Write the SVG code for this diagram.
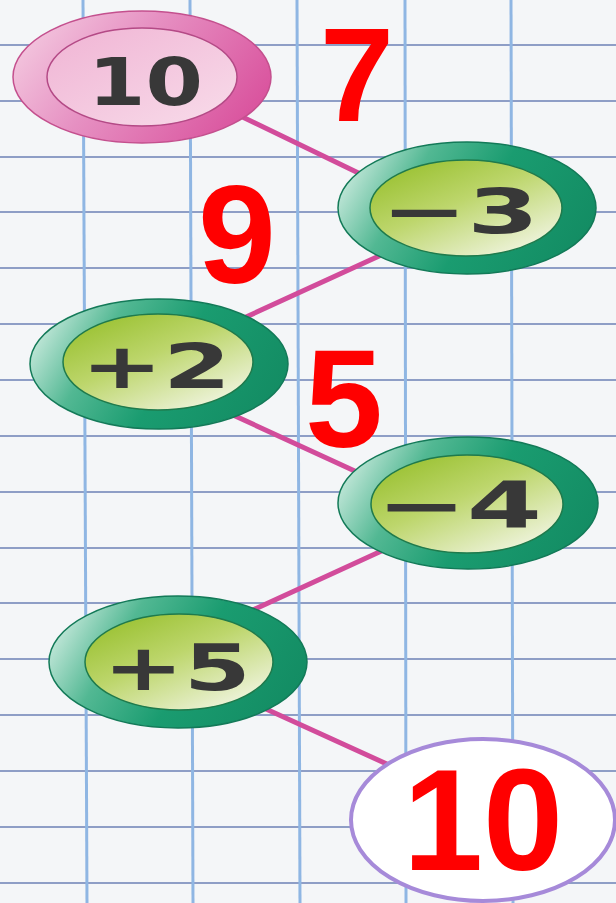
<svg xmlns="http://www.w3.org/2000/svg" width="616" height="903" viewBox="0 0 616 903">
<defs>
<linearGradient id="gOuter" x1="0" y1="0.35" x2="1" y2="0.65">
<stop offset="0" stop-color="#c4e8da"/>
<stop offset="0.25" stop-color="#52b893"/>
<stop offset="0.55" stop-color="#1a9c70"/>
<stop offset="1" stop-color="#138c63"/>
</linearGradient>
<linearGradient id="gInner" x1="0.1" y1="0.05" x2="0.85" y2="0.95">
<stop offset="0" stop-color="#98c02e"/>
<stop offset="0.45" stop-color="#bdd66c"/>
<stop offset="1" stop-color="#f1f5e2"/>
</linearGradient>
<linearGradient id="pOuter" x1="0" y1="0.3" x2="1" y2="0.7">
<stop offset="0" stop-color="#f3c6de"/>
<stop offset="0.4" stop-color="#e690c2"/>
<stop offset="1" stop-color="#d9509c"/>
</linearGradient>
<linearGradient id="pInner" x1="0" y1="0" x2="1" y2="1">
<stop offset="0" stop-color="#f0b4d4"/>
<stop offset="1" stop-color="#f8dcea"/>
</linearGradient>
</defs>
<style>
.vg{stroke:#8fb6e3;stroke-width:3}
.hg{stroke:#8e9ec6;stroke-width:2}
.conn{stroke:#d24c9b;stroke-width:5;stroke-linecap:round;fill:none}
.go{fill:url(#gOuter);stroke:#137a58;stroke-width:1.5}
.gi{fill:url(#gInner);stroke:#1f7a4c;stroke-width:1.5}
.op{font-family:"DejaVu Sans",sans-serif;font-weight:bold;fill:#383838}
.ans{font-family:"Liberation Sans",Arial,sans-serif;font-weight:bold;fill:#ff0000;text-anchor:middle}
</style>
<rect width="616" height="903" fill="#f4f6f8"/>
<g id="grid">
<line class="hg" x1="0" y1="45" x2="616" y2="45"/>
<line class="hg" x1="0" y1="101" x2="616" y2="101"/>
<line class="hg" x1="0" y1="157" x2="616" y2="157"/>
<line class="hg" x1="0" y1="212" x2="616" y2="212"/>
<line class="hg" x1="0" y1="268" x2="616" y2="268"/>
<line class="hg" x1="0" y1="324" x2="616" y2="324"/>
<line class="hg" x1="0" y1="380" x2="616" y2="380"/>
<line class="hg" x1="0" y1="436" x2="616" y2="436"/>
<line class="hg" x1="0" y1="492" x2="616" y2="492"/>
<line class="hg" x1="0" y1="548" x2="616" y2="548"/>
<line class="hg" x1="0" y1="603" x2="616" y2="603"/>
<line class="hg" x1="0" y1="659" x2="616" y2="659"/>
<line class="hg" x1="0" y1="715" x2="616" y2="715"/>
<line class="hg" x1="0" y1="771" x2="616" y2="771"/>
<line class="hg" x1="0" y1="827" x2="616" y2="827"/>
<line class="hg" x1="0" y1="883" x2="616" y2="883"/>
<line class="vg" x1="83" y1="0" x2="87" y2="903"/>
<line class="vg" x1="190" y1="0" x2="193" y2="903"/>
<line class="vg" x1="297" y1="0" x2="300" y2="903"/>
<line class="vg" x1="405" y1="0" x2="406" y2="903"/>
<line class="vg" x1="511" y1="0" x2="513" y2="903"/>
</g>
<g id="connectors">
<line class="conn" x1="230" y1="111" x2="375" y2="181"/>
<line class="conn" x1="390" y1="251" x2="235" y2="322"/>
<line class="conn" x1="222" y1="410" x2="370" y2="478"/>
<line class="conn" x1="388" y1="548" x2="242" y2="615"/>
<line class="conn" x1="255" y1="704" x2="400" y2="770"/>
</g>
<g id="node-start">
<ellipse cx="142" cy="77" rx="129" ry="66" fill="url(#pOuter)" stroke="#c4508e" stroke-width="1.5"/>
<ellipse cx="142" cy="77" rx="95" ry="49" fill="url(#pInner)" stroke="#b44a86" stroke-width="1.5"/>
<text class="op" x="88" y="105" font-size="66" textLength="115" lengthAdjust="spacingAndGlyphs">10</text>
</g>
<g id="node-minus3">
<ellipse class="go" cx="467" cy="208" rx="129" ry="66"/>
<ellipse class="gi" cx="466" cy="208" rx="96" ry="48"/>
<text class="op" x="381" y="233" font-size="63" textLength="158" lengthAdjust="spacingAndGlyphs">−3</text>
</g>
<g id="node-plus2">
<ellipse class="go" cx="159" cy="364" rx="129" ry="65"/>
<ellipse class="gi" cx="158" cy="362" rx="95" ry="48"/>
<text class="op" x="81" y="388" font-size="62" textLength="150" lengthAdjust="spacingAndGlyphs">+2</text>
</g>
<g id="node-minus4">
<ellipse class="go" cx="468" cy="503" rx="130" ry="66"/>
<ellipse class="gi" cx="467" cy="504" rx="96" ry="49"/>
<text class="op" x="376" y="528" font-size="64" textLength="166" lengthAdjust="spacingAndGlyphs">−4</text>
</g>
<g id="node-plus5">
<ellipse class="go" cx="178" cy="662" rx="129" ry="66"/>
<ellipse class="gi" cx="179" cy="662" rx="94" ry="48"/>
<text class="op" x="103" y="690" font-size="64" textLength="148" lengthAdjust="spacingAndGlyphs">+5</text>
</g>
<g id="node-result">
<ellipse cx="483" cy="820" rx="132" ry="81" fill="#ffffff" stroke="#a68ad9" stroke-width="4"/>
<text class="ans" x="483" y="870" font-size="144">10</text>
</g>
<g id="answers">
<text class="ans" x="357" y="121" font-size="133">7</text>
<text class="ans" x="237" y="283" font-size="140">9</text>
<text class="ans" x="344" y="447" font-size="140">5</text>
</g>
</svg>
